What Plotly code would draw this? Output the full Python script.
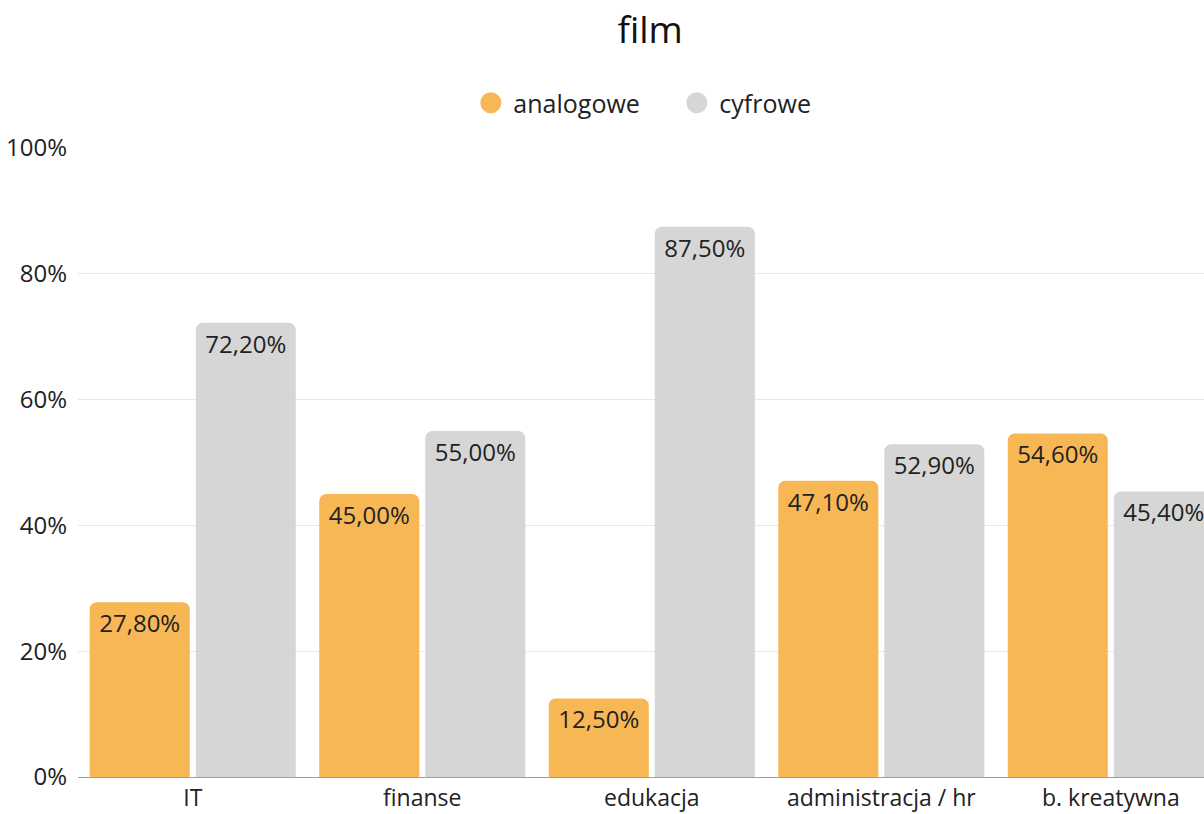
import plotly.graph_objects as go

categories = ["IT", "finanse", "edukacja", "administracja / hr", "b. kreatywna"]
analogowe = [27.8, 45.0, 12.5, 47.1, 54.6]
cyfrowe = [72.2, 55.0, 87.5, 52.9, 45.4]
series_names = ["analogowe", "cyfrowe"]
tick_vals = [0, 20, 40, 60, 80, 100]
tick_text = ["0%", "20%", "40%", "60%", "80%", "100%"]

ORANGE = "#F8B755"
GREY = "#D6D6D6"
FONT = "Open Sans"


def fmt(v):
    return f"{v:.2f}".replace(".", ",") + "%"


fig = go.Figure()
for name, vals, col in [(series_names[0], analogowe, ORANGE), (series_names[1], cyfrowe, GREY)]:
    fig.add_trace(go.Bar(
        x=categories, y=vals, name=name, showlegend=False,
        marker=dict(color=col, cornerradius=7, line=dict(width=0)),
        text=[fmt(v) for v in vals], textposition="inside", insidetextanchor="end",
        textangle=0, constraintext="none",
        textfont=dict(family=FONT, size=24, color="#222222"),
        hoverinfo="skip",
    ))
    fig.add_trace(go.Scatter(
        x=[None], y=[None], mode="markers", name=name,
        marker=dict(symbol="circle", size=26, color=col, line=dict(color=col, width=5)),
    ))

fig.update_layout(
    width=1204, height=814,
    paper_bgcolor="white", plot_bgcolor="white",
    margin=dict(l=78, r=0, t=148, b=37),
    barmode="group", bargap=0.076, bargroupgap=0.0566,
    font=dict(family=FONT, color="#222222"),
    title=dict(text="film", x=0.54, xref="container", y=1 - 30 / 814, yref="container",
               xanchor="center", yanchor="middle", font=dict(family=FONT, size=37, color="#111111")),
    legend=dict(orientation="h", x=0.389, xref="container", y=1 - 103 / 814, yref="container",
                xanchor="left", yanchor="middle", font=dict(family=FONT, size=25, color="#222222"),
                itemsizing="trace", itemwidth=35, entrywidth=156),
    xaxis=dict(range=[-0.5, 4.406], showgrid=False, showline=True, linecolor="#9E9E9E", linewidth=1,
               ticks="", tickfont=dict(family=FONT, size=23, color="#222222"), ticklabelstandoff=0,
               automargin=False, fixedrange=True),
    yaxis=dict(range=[0, 100], tickvals=tick_vals, ticktext=tick_text, showgrid=True,
               gridcolor="#E8E8E8", gridwidth=1, zeroline=False, ticks="",
               tickfont=dict(family=FONT, size=24, color="#222222"), ticklabelstandoff=10,
               automargin=False, fixedrange=True),
)

fig.write_html("out.html")
